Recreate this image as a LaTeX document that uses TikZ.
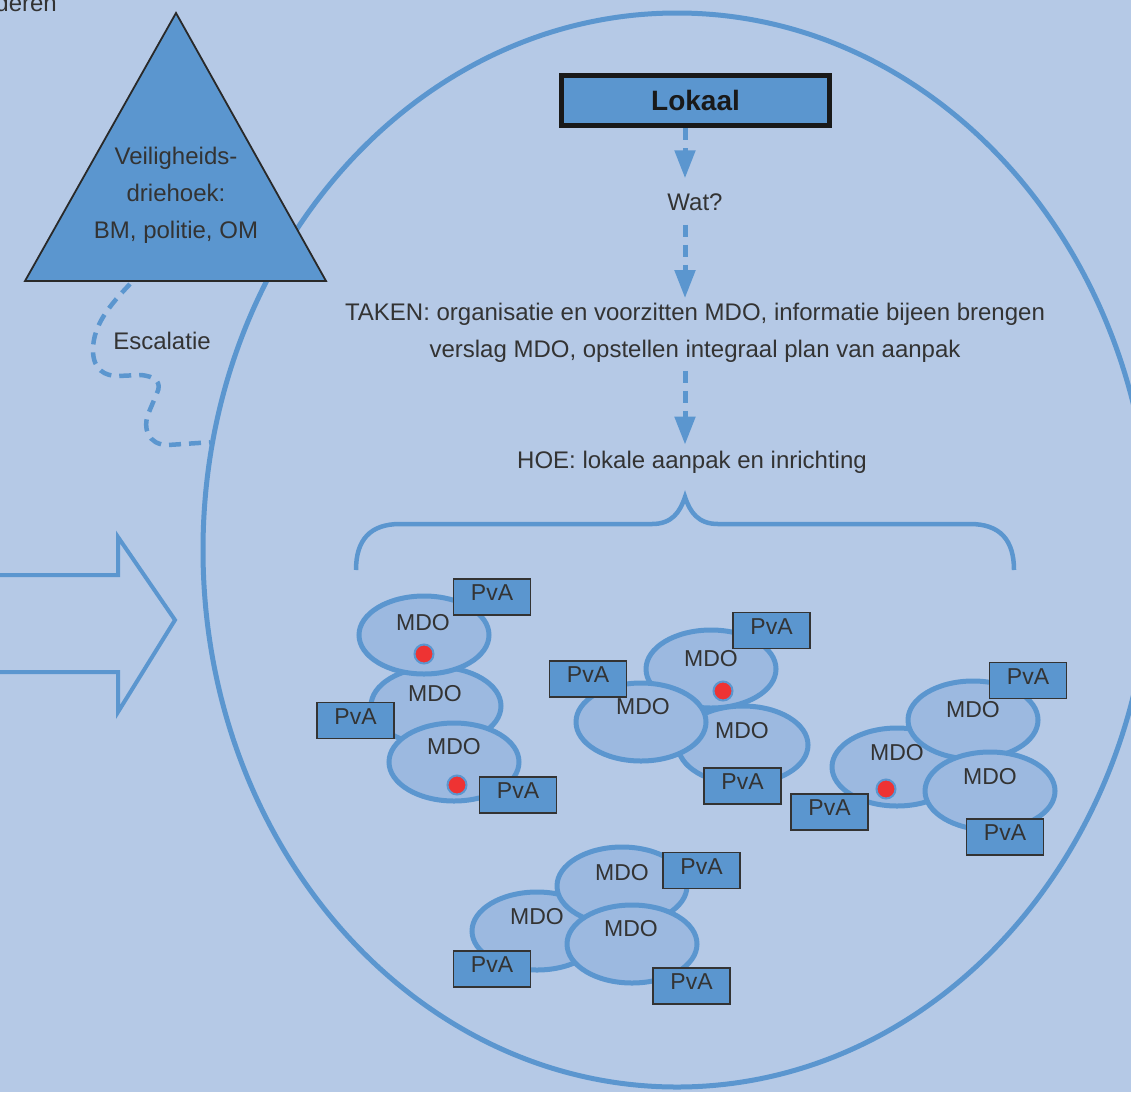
\documentclass[tikz,border=0pt]{standalone}
\usepackage{fontspec}
\setmainfont{Liberation Sans}
\usetikzlibrary{arrows.meta,shapes.geometric}
\definecolor{bg}{HTML}{B5C9E6}
\definecolor{blu}{HTML}{5B96CF}
\definecolor{lite}{HTML}{9CB9E0}
\definecolor{ink}{HTML}{333333}
\definecolor{dotred}{HTML}{EE3333}
\begin{document}
\begin{tikzpicture}[x=1pt,y=-1pt,
  txt/.style={text=ink,font=\fontsize{24}{37}\selectfont,inner sep=0pt,align=center},
  mdotxt/.style={text=ink,font=\fontsize{23}{23}\selectfont,inner sep=0pt},
  mdo/.style={ellipse,draw=blu,fill=lite,line width=5pt,minimum width=130pt,minimum height=78pt,inner sep=0pt},
  pva/.style={rectangle,draw=ink,fill=blu,line width=1.3pt,minimum width=77pt,minimum height=36pt,inner sep=0pt,text=ink,font=\fontsize{23}{23}\selectfont,text height=17pt,text depth=10pt},
  dot/.style={circle,fill=dotred,draw=blu,line width=2pt,minimum size=19pt,inner sep=0pt},
  flow/.style={draw=blu,line width=5pt,dash pattern=on 12pt off 8pt,-{Triangle[width=20pt,length=28pt]}},
  blueline/.style={draw=blu,line width=5pt},
]
\useasboundingbox (0,0) rectangle (1131,1092);
\fill[bg] (0,0) rectangle (1131,1092);

% big ring
\node[ellipse,blueline,minimum width=948pt,minimum height=1074pt,inner sep=0pt] (ring) at (677,550) {};

% cut-off text top-left
\node[txt,anchor=base east] (deren) at (57,12) {deren};

% triangle
\coordinate (tA) at (176,13);
\coordinate (tL) at (25,281);
\coordinate (tR) at (326,281);
\filldraw[fill=blu,draw=ink!80!black,line width=1.8pt,line join=miter] (tA) -- (tL) -- (tR) -- cycle;
\node[txt] (tri) at (176,195) {Veiligheids-\\driehoek:\\BM, politie, OM};

% escalation
\coordinate (escstart) at (130,284);
\node[txt] (esc) at (162,341) {Escalatie};
\draw[draw=blu,line width=4.5pt,dash pattern=on 12pt off 8pt]
  (escstart) .. controls (110,305) and (93,325) .. (93,350)
  .. controls (93,370) and (105,376) .. (118,376) -- (140,375)
  .. controls (156,376) and (162,383) .. (157,393) -- (149,412)
  .. controls (142,428) and (148,445) .. (168,445) -- (ring.167);

% big outline arrow on the left
\draw[blueline,line width=4pt,line join=miter]
  (-5,575) -- (118,575) -- (118,537) -- (175,620) -- (118,712) -- (118,672) -- (-5,672);

% top flow
\coordinate (ax) at (685,0);
\node[rectangle,draw=black!90,fill=blu,line width=5pt,minimum width=268pt,minimum height=50pt,inner sep=0pt,
      font=\fontsize{28}{28}\selectfont\bfseries,text=black!90] (lokaal) at (695.5,100.5) {Lokaal};
\node[txt] (wat) at (695,202) {Wat?};
\node[txt] (taken) at (695,333) {TAKEN: organisatie en voorzitten MDO, informatie bijeen brengen\\verslag MDO, opstellen integraal plan van aanpak};
\node[txt] (hoe) at (692,462) {HOE: lokale aanpak en inrichting};
\draw[flow,shorten >=15pt] (lokaal.south -| ax) -- (wat.north -| ax);
\draw[flow,shorten <=14pt,shorten >=5pt] (wat.south -| ax) -- (taken.north -| ax);
\draw[flow,shorten <=8pt,shorten >=6pt] (taken.south -| ax) -- (hoe.north -| ax);

% brace
\coordinate (brL) at (356,570);
\coordinate (brM) at (685,497);
\coordinate (brR) at (1014,570);
\draw[blueline,line width=4.5pt]
  (brL) .. controls (356,540) and (370,524) .. (400,524) -- (652,524)
  .. controls (672,524) and (680,512) .. (brM)
  .. controls (690,512) and (698,524) .. (718,524) -- (970,524)
  .. controls (1000,524) and (1014,540) .. (brR);

% cluster 1
\node[mdo] (m1b) at (436,706) {};
\node[mdotxt] (t1b) at (435,694) {MDO};
\node[mdo] (m1a) at (424,635) {};
\node[mdotxt] (t1a) at (423,623) {MDO};
\node[dot] (d1a) at (424,654) {};
\node[mdo] (m1c) at (454,762) {};
\node[mdotxt] (t1c) at (454,747) {MDO};
\node[dot] (d1c) at (457,785) {};
\node[pva] (p1a) at (492,597) {PvA};
\node[pva] (p1b) at (355.5,720.5) {PvA};
\node[pva] (p1c) at (518,795) {PvA};

% cluster 2
\node[mdo] (m2t) at (711,669) {};
\node[mdotxt] (t2t) at (711,659) {MDO};
\node[dot] (d2t) at (723,691) {};
\node[mdo] (m2r) at (743,745) {};
\node[mdotxt] (t2r) at (742,731) {MDO};
\node[mdo] (m2l) at (641,722) {};
\node[mdotxt] (t2l) at (643,707) {MDO};
\node[pva] (p2a) at (771.5,630.5) {PvA};
\node[pva] (p2b) at (588,679) {PvA};
\node[pva] (p2c) at (742.5,786) {PvA};

% cluster 3
\node[mdo] (m3l) at (897,767) {};
\node[mdotxt] (t3l) at (897,753) {MDO};
\node[dot] (d3l) at (886,789) {};
\node[mdo] (m3t) at (973,720) {};
\node[mdotxt] (t3t) at (973,710) {MDO};
\node[mdo] (m3r) at (990,791) {};
\node[mdotxt] (t3r) at (990,777) {MDO};
\node[pva] (p3a) at (1028,680.5) {PvA};
\node[pva] (p3b) at (829.5,812) {PvA};
\node[pva] (p3c) at (1005,837) {PvA};

% cluster 4
\node[mdo] (m4l) at (537,931) {};
\node[mdotxt] (t4l) at (537,917) {MDO};
\node[mdo] (m4t) at (622,886) {};
\node[mdotxt] (t4t) at (622,873) {MDO};
\node[mdo] (m4r) at (632,944) {};
\node[mdotxt] (t4r) at (631,929) {MDO};
\node[pva] (p4a) at (701.5,870.5) {PvA};
\node[pva] (p4b) at (492,969) {PvA};
\node[pva] (p4c) at (691.5,986) {PvA};
\end{tikzpicture}
\end{document}
